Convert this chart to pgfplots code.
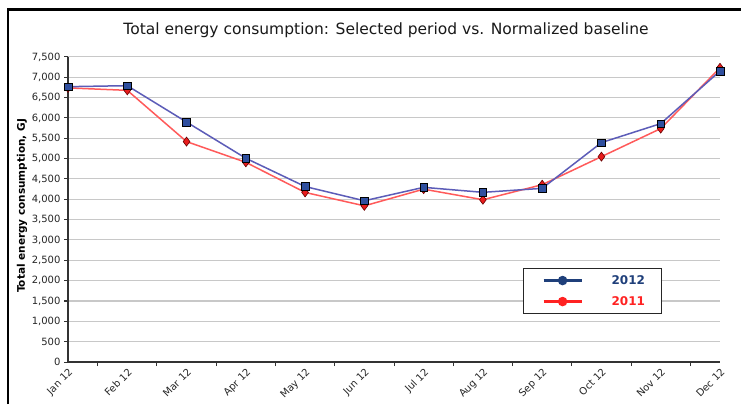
\documentclass[border=0pt]{standalone}
\usepackage{fontspec}
\setmainfont{DejaVu Sans}
\usepackage{pgfplots}
\pgfplotsset{compat=1.18}
\definecolor{blueline}{HTML}{5C5CB8}
\definecolor{bluefill}{HTML}{2F4F9F}
\definecolor{redline}{HTML}{FF5A5A}
\definecolor{redfill}{HTML}{E81C1C}
\definecolor{navy}{HTML}{1F3F7A}
\definecolor{legred}{HTML}{FF2222}
\definecolor{gridgray}{HTML}{C8C8C8}
\begin{document}
\begin{tikzpicture}[x=1pt,y=1pt]
\useasboundingbox (0,0) rectangle (741,404);
\fill[white] (0,0) rectangle (741,404);
\draw[line width=2.5pt] (8,0) -- (8,394.5) -- (741,394.5);
\node[font=\fontsize{15.5}{18}\selectfont, text=black!90] at (386,374) {Total energy consumption: Selected period vs. Normalized baseline};
\node[rotate=90, font=\fontsize{10.5}{12}\selectfont\bfseries] at (22,198) {Total energy consumption, GJ};
\begin{axis}[
  at={(68pt,42pt)}, anchor=south west,
  width=652pt, height=305pt, scale only axis,
  xmin=0, xmax=11, ymin=0, ymax=7500,
  axis x line*=bottom, axis y line*=left,
  axis line style={black!80, line width=1.2pt},
  tick align=outside, major tick length=4pt, minor tick length=4pt,
  tick style={black!80, line width=1pt},
  xtick={0,1,...,11},
  xticklabels={Jan 12,Feb 12,Mar 12,Apr 12,May 12,Jun 12,Jul 12,Aug 12,Sep 12,Oct 12,Nov 12,Dec 12},
  major x tick style={draw=none},
  minor xtick={0.5,1.5,...,10.5},
  minor x tick style={black!80, line width=1pt},
  xticklabel style={rotate=45, anchor=north east, font=\fontsize{10}{12}\selectfont, text=black!85, inner sep=1pt},
  ytick={0,500,...,7500},
  ymajorgrids, grid style={gridgray, line width=1pt},
  yticklabel style={font=\fontsize{10}{12}\selectfont, text=black!85},
  /pgf/number format/assume math mode=true,
  /pgf/number format/.cd, 1000 sep={,},
  /pgfplots/.cd,
  scaled y ticks=false,
  clip=false,
  legend style={at={(0.698,0.308)}, anchor=north west, fill=white, draw=black!85, line width=1pt, inner xsep=0pt, inner ysep=6pt, row sep=9pt, column sep=0pt, nodes={draw=none, inner sep=0pt}, cells={anchor=west}},
]
\addlegendimage{legend image code/.code={\path[draw=none,fill=none] (0pt,-6pt) rectangle (88pt,6pt); \draw[navy, line width=3pt] (20pt,0pt) -- (58pt,0pt); \fill[navy, draw=none] (39pt,0pt) circle (4.8pt);}}
\addlegendentry{\textcolor{navy}{\fontsize{12}{14}\selectfont\bfseries 2012}\hspace*{16pt}}
\addlegendimage{legend image code/.code={\path[draw=none,fill=none] (0pt,-6pt) rectangle (88pt,6pt); \draw[legred, line width=3pt] (20pt,0pt) -- (58pt,0pt); \fill[legred, draw=none] (39pt,0pt) circle (4.8pt);}}
\addlegendentry{\textcolor{legred}{\fontsize{12}{14}\selectfont\bfseries 2011}\hspace*{16pt}}
\addplot[forget plot, redline, line width=1.5pt, mark=diamond*, mark size=4.5pt, mark options={fill=redfill, draw=red!40!black, line width=0.6pt}] coordinates {
(0,6740) (1,6680) (2,5420) (3,4910) (4,4170) (5,3840) (6,4250) (7,3990) (8,4360) (9,5050) (10,5740) (11,7235)};
\addplot[forget plot, blueline, line width=1.5pt, mark=square*, mark size=3.8pt, mark options={fill=bluefill, draw=black, line width=0.6pt}] coordinates {
(0,6770) (1,6795) (2,5900) (3,5010) (4,4315) (5,3965) (6,4295) (7,4172) (8,4270) (9,5395) (10,5862) (11,7155)};
\end{axis}
\end{tikzpicture}
\end{document}
